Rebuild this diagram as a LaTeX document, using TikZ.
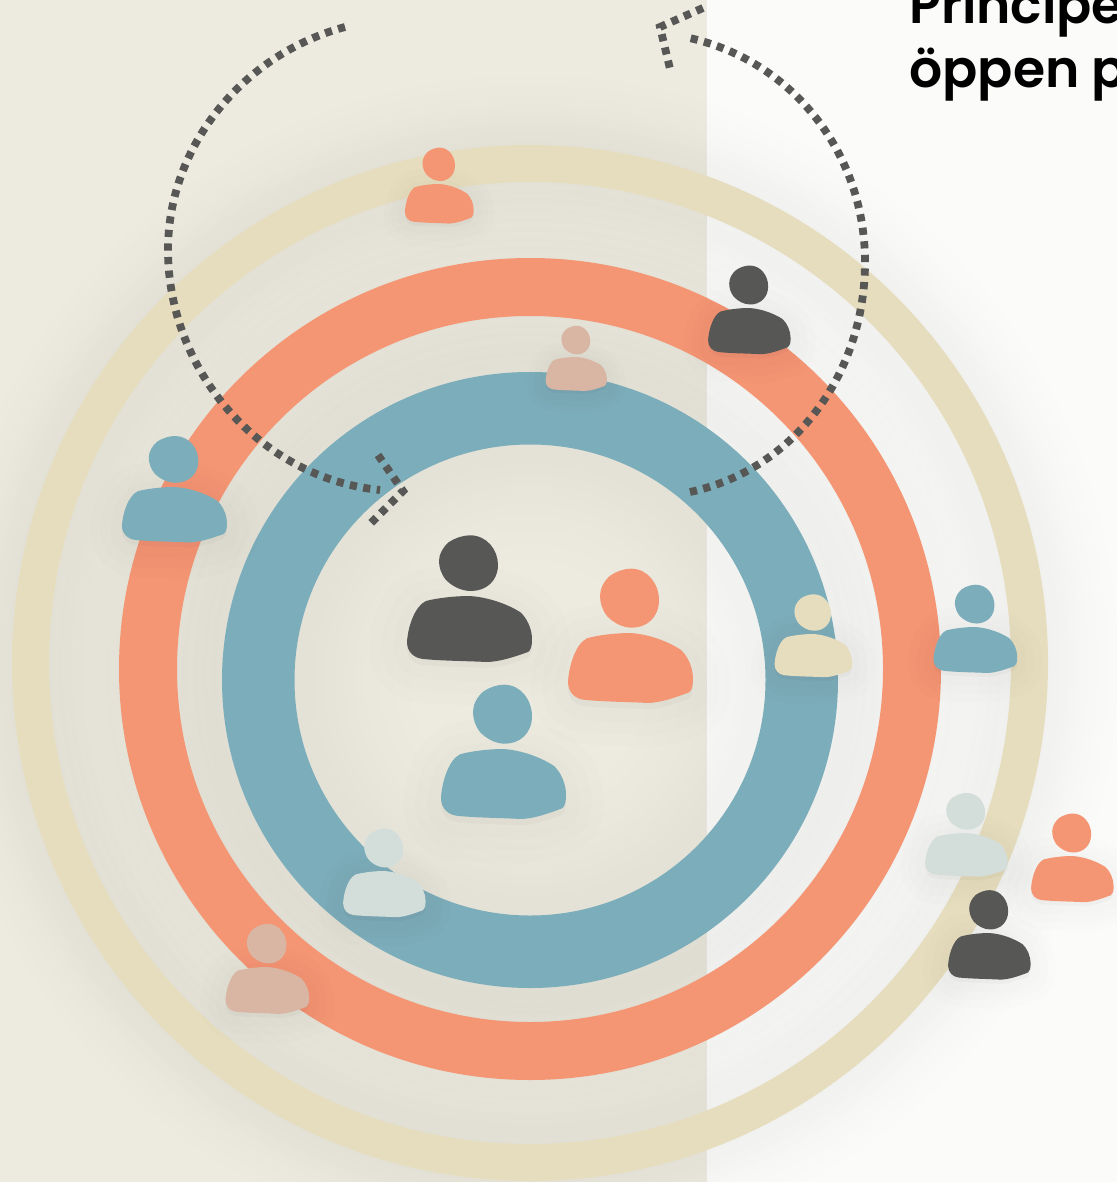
\documentclass[tikz,border=0pt]{standalone}
\usepackage{fontspec}
\newfontfamily\headfont{Poppins SemiBold}
\definecolor{bgleft}{HTML}{EDEBE0}
\definecolor{bgright}{HTML}{FBFBF9}
\definecolor{ringbeige}{HTML}{E6DDBE}
\definecolor{ringorange}{HTML}{F49673}
\definecolor{ringblue}{HTML}{7CADBA}
\definecolor{pdark}{HTML}{575756}
\definecolor{ppale}{HTML}{D3DEDB}
\definecolor{ppink}{HTML}{D9B5A3}
\tikzset{
  loopdash/.style={draw=pdark,line width=3.9pt,dash pattern=on 3.6pt off 3.2pt},
  headdash/.style={draw=pdark,line width=3.9pt,dash pattern=on 3.6pt off 3.2pt},
  softshadow/.style={draw=black,opacity=.0055},
  softbody/.style={draw=black,fill=black,opacity=.006},
  headline/.style={inner sep=0pt,anchor=base west,font=\headfont\fontsize{26}{26}\selectfont,text=black}
}
\newcommand{\bodyshape}{(0,0) .. controls (20,1) and (40,9) .. (51,16) .. controls (58,22) and (63,33) .. (63,43) .. controls (63,50) and (62,54) .. (59,56) .. controls (45,61) and (30,66) .. (17,66) .. controls (0,65) and (-25,65) .. (-46,63) .. controls (-55,62) and (-62,56) .. (-62,46) .. controls (-61,30) and (-54,10) .. (-43,5) .. controls (-32,2) and (-14,0) .. (0,0) -- cycle}
\newcommand{\headshape}{(1,-60.7) .. controls (18,-60.7) and (29,-46) .. (29,-31) .. controls (29,-15) and (17,-5) .. (2,-5) .. controls (-8,-5) and (-17,-10) .. (-23,-16) .. controls (-28,-22) and (-30,-29) .. (-30,-35) .. controls (-30,-42) and (-26,-49) .. (-20,-54) .. controls (-14,-58) and (-6,-60.7) .. (1,-60.7) -- cycle}
% x, y of the body's top, width scale, colour, height factor
\newcommand{\personat}[5]{%
  \begin{scope}[shift={(#1,#2)},xscale=#3,yscale=#3*#5]
    \foreach \w in {14,26,38}{
      \pgfmathsetmacro{\lw}{\w*#3}
      \begin{scope}[yshift=-3pt]
      \path[softbody,line width=\lw pt] \bodyshape;
      \end{scope}
    }
    \fill[#4] \headshape;
    \fill[#4] \bodyshape;
  \end{scope}}
\newcommand{\softedge}[3]{%
  \foreach \w in {20,30,...,70}{
    \draw[softshadow,line width=\w pt] (#1,#2) circle[radius=#3];
  }}
\begin{document}
\begin{tikzpicture}[x=0.5pt,y=-0.5pt]
\useasboundingbox (0,0) rectangle (1117,1182);
\clip (0,0) rectangle (1117,1182);
\fill[bgleft] (0,0) rectangle (707,1182);
\fill[bgright] (707,0) rectangle (1117,1182);
% soft shadows
\softedge{530}{663}{518}
\softedge{530}{663}{481}
\softedge{530}{669}{411}
\softedge{530}{669}{353}
\softedge{530}{680}{308}
\softedge{530}{680}{235.5}
\foreach \w in {85,100,115}{
  \draw[softshadow,line width=\w pt] (530,680) circle[radius=235.5];
}
% rings
\fill[ringbeige,even odd rule] (530,663) circle[radius=518] (530,663) circle[radius=481];
\fill[ringorange,even odd rule] (530,669) circle[radius=411] (530,669) circle[radius=353];
\fill[ringblue,even odd rule] (530,680) circle[radius=308] (530,680) circle[radius=235.5];
% text
\node[headline] (lineone) at (909,24) {Principe};
\node[headline] (linetwo) at (909,88) {öppen p};
% loop arrows
\coordinate (la) at (345,27);
\coordinate (lb) at (168,250);
\coordinate (lc) at (380,490);
\draw[loopdash] (la) .. controls (244,54) and (168,145) .. (lb) .. controls (168,371) and (260,478) .. (lc);
\coordinate (lh1) at (378,455);
\coordinate (lh2) at (403,491);
\coordinate (lh3) at (368,526);
\draw[headdash] (lh1) -- (lh2) -- (lh3);
\coordinate (ra) at (690,492);
\coordinate (rb) at (865,262);
\coordinate (rc) at (685,37);
\draw[loopdash] (ra) .. controls (797,469) and (865,371) .. (rb) .. controls (865,153) and (792,59) .. (rc);
\coordinate (rh1) at (703,8);
\coordinate (rh2) at (660,27);
\coordinate (rh3) at (671,73);
\draw[headdash] (rh1) -- (rh2) -- (rh3);
% people
\personat{439}{184}{.55}{ringorange}{1.09}
\personat{749}{308}{.66}{pdark}{1.06}
\personat{576}{357}{.49}{ppink}{1.05}
\personat{174}{487}{.84}{ringblue}{1}
\personat{469}{596}{1}{pdark}{1}
\personat{630}{633}{1}{ringorange}{1.06}
\personat{503}{749}{1}{ringblue}{1.06}
\personat{813}{634}{.62}{ringbeige}{1.056}
\personat{975}{627}{.67}{ringblue}{1.04}
\personat{966}{833}{.66}{ppale}{1}
\personat{1072}{856}{.66}{ringorange}{1.06}
\personat{989}{933}{.66}{pdark}{1.07}
\personat{384}{871}{.66}{ppale}{1.06}
\personat{267}{967}{.67}{ppink}{1.06}
\end{tikzpicture}
\end{document}
